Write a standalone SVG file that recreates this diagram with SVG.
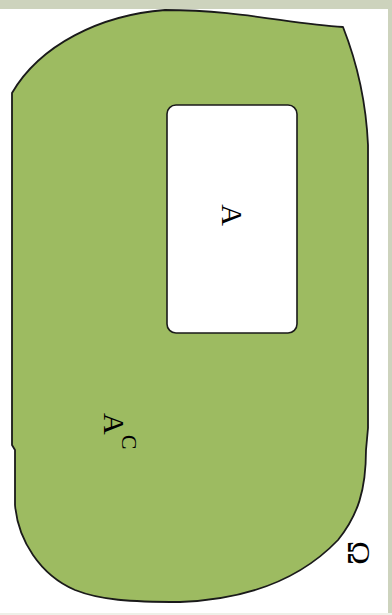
<svg xmlns="http://www.w3.org/2000/svg" width="392" height="615" viewBox="0 0 392 615">
  <style>
    .frame { fill: #cdd3bd; }
    .region { fill: #9dbb61; stroke: #1a1a1a; stroke-width: 1.8; stroke-linejoin: round; }
    .set { fill: #ffffff; stroke: #1a1a1a; stroke-width: 1.6; }
    .lbl { font-family: "Liberation Serif", "Times New Roman", serif; fill: #000000; }
  </style>
  <rect x="0" y="0" width="392" height="615" fill="#ffffff"/>
  <rect class="frame" x="0" y="0" width="392" height="9"/>
  <rect class="frame" x="388" y="0" width="4" height="615"/>
  <rect x="0" y="613" width="392" height="2" fill="#eef0e8"/>
  <g id="omega">
    <path class="region" d="M 12 93 L 12 445 L 15 450 L 15 505 C 18 540, 40 575, 75 590 C 100 600, 130 602, 180 602 C 235 600, 295 585, 338 540 C 358 515, 366 490, 366 450 L 368 428 L 368 145 C 366 100, 356 60, 343 27 C 290 24, 240 10, 165 10 C 100 15, 40 45, 12 93 Z"/>
    <text class="lbl" font-size="32" text-anchor="middle" transform="translate(348,553) rotate(90)">Ω</text>
  </g>
  <g id="setA">
    <rect class="set" x="167" y="105" width="130" height="228" rx="9" ry="9"/>
    <text class="lbl" font-size="30" text-anchor="middle" transform="translate(222,215) rotate(90)">A</text>
  </g>
  <g id="complement">
    <text class="lbl" font-size="30" transform="translate(104,413) rotate(90)">A<tspan font-size="22" dy="-18">C</tspan></text>
  </g>
  <g id="connectors"></g>
</svg>
